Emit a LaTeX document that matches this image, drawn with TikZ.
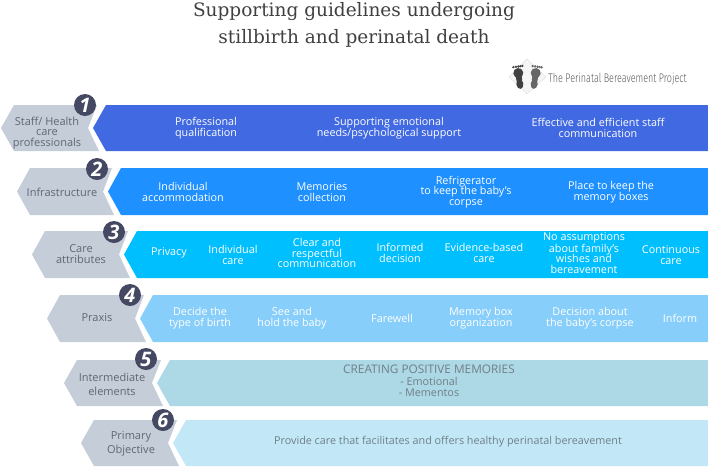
\documentclass[tikz,border=0pt]{standalone}
\usepackage{graphicx}
\usepackage{fontspec}
\setmainfont{Open Sans}
\newfontfamily\titlefont{DejaVu Serif}
\newfontfamily\logofont{Fira Sans Light}
\definecolor{badgecol}{HTML}{454862}
\definecolor{tagcol}{HTML}{C4CDD8}
\definecolor{tagtext}{HTML}{5F6774}
\definecolor{softtext}{HTML}{707F86}
\definecolor{rowa}{HTML}{4169E1}
\definecolor{rowb}{HTML}{1E90FF}
\definecolor{rowc}{HTML}{00BFFF}
\definecolor{rowd}{HTML}{87CEFA}
\definecolor{rowe}{HTML}{ADD8E6}
\definecolor{rowf}{HTML}{C2E8F7}
\tikzset{
  item/.style={text=white,font=\fontsize{10.8}{10.8}\selectfont,align=center,inner sep=0pt},
  softitem/.style={item,text=softtext,font=\fontsize{10.8}{11.6}\selectfont},
  tag/.style={text=tagtext,font=\fontsize{11}{10.8}\selectfont,align=center,inner sep=0pt},
  tagwide/.style={tag,font=\fontsize{11}{14}\selectfont},
  badge/.style={circle,fill=badgecol,text=white,minimum size=22pt,inner sep=0pt,font=\fontsize{20}{20}\selectfont\bfseries\itshape},
}
\begin{document}
\begin{tikzpicture}[x=1pt,y=-1pt]
  \useasboundingbox (0,0) rectangle (708,467);
  % row shapes: gray tip, blue tip, top, bottom, colour
  \foreach \t/\b/\ya/\yb/\c in {1/93/105/151/rowa,17/108/168/215/rowb,32/124/231/278/rowc,47/140/295/342/rowd,64/157/360/406/rowe,81/173/420/466/rowf} {
    \fill[tagcol] (\t,{(\ya+\yb)/2}) -- (\t+13,\ya) -- (\b+4,\ya) -- (\b-5,{(\ya+\yb)/2}) -- (\b+6,\yb) -- (\t+13,\yb) -- cycle;
    \fill[\c] (\b,{(\ya+\yb)/2}) -- (\b+13,\ya) -- (708,\ya) -- (708,\yb) -- (\b+13,\yb) -- cycle;
  }
  \node[font=\titlefont\fontsize{18.5}{27}\selectfont,text=black!75,align=center] (title) at (354,25) {Supporting guidelines undergoing\\stillbirth and perinatal death};
  % badges
  \node[badge] (one) at (85,105) {1};
  \node[badge] (two) at (97,169) {2};
  \node[badge] (three) at (114,232) {3};
  \node[badge] (four) at (130,295) {4};
  \node[badge] (five) at (146,359) {5};
  \node[badge] (six) at (163,420) {6};
  % left tags
  \node[tag] (staff) at (47,133) {Staff/ Health\\care\\professionals};
  \node[tag] (infra) at (62,192) {Infrastructure};
  \node[tag] (attr) at (81,254) {Care\\attributes};
  \node[tag] (praxis) at (97,318) {Praxis};
  \node[tagwide] (inter) at (112,384) {Intermediate\\elements};
  \node[tagwide] (prim) at (131,444) {Primary\\Objective};
  % first row
  \node[item] (qual) at (206,128) {Professional\\qualification};
  \node[item] (emot) at (389,128) {Supporting emotional\\needs/psychological support};
  \node[item] (comm) at (598,128) {Effective and efficient staff\\communication};
  % second row
  \node[item] (accom) at (183,192) {Individual\\accommodation};
  \node[item] (memo) at (322,192) {Memories\\collection};
  \node[item] (fridge) at (466,192) {Refrigerator\\to keep the baby's\\corpse};
  \node[item] (place) at (611,192) {Place to keep the\\memory boxes};
  % third row
  \node[item] (priv) at (169,253) {Privacy};
  \node[item] (indiv) at (233,255) {Individual\\care};
  \node[item] (clear) at (317,253) {Clear and\\respectful\\communication};
  \node[item] (inf) at (400,253) {Informed\\decision};
  \node[item] (evid) at (484,253) {Evidence-based\\care};
  \node[item] (assum) at (584,253) {No assumptions\\about family's\\wishes and\\bereavement};
  \node[item] (cont) at (671,255) {Continuous\\care};
  % fourth row
  \node[item] (decide) at (200,318) {Decide the\\type of birth};
  \node[item] (see) at (292,318) {See and\\hold the baby};
  \node[item] (fare) at (392,318) {Farewell};
  \node[item] (box) at (481,318) {Memory box\\organization};
  \node[item] (corpse) at (590,318) {Decision about\\the baby's corpse};
  \node[item] (inform) at (680,318) {Inform};
  % last rows
  \node[softitem] (pos) at (429,381) {\fontsize{11.8}{11.6}\selectfont CREATING POSITIVE MEMORIES\\- Emotional\\- Mementos};
  \node[softitem] (goal) at (448,442) {Provide care that facilitates and offers healthy perinatal bereavement};
  % logo
  \draw[black!12,fill=black!4] (527,59) -- (546,77) -- (527,94) -- (509,77) -- cycle;
  \foreach \f/\c/\r in {519/black!75/8,535/black!60/-8} {
    \begin{scope}[rotate around={\r:(\f,78)}]
      \fill[\c] (\f,73) ellipse (5 and 5);
      \fill[\c] (\f,84) ellipse (3.5 and 5);
      \fill[\c] (\f,78) ellipse (3 and 6);
      \foreach \d in {-4,-1.5,1,3,5} \fill[\c] (\f+\d,66.5) circle (1.3);
    \end{scope}
  }
  \node[font=\logofont\fontsize{12.5}{12.5}\selectfont,text=black!65,inner sep=0pt] (logo) at (617.5,79) {\scalebox{.72}[1]{The Perinatal Bereavement Project}};
\end{tikzpicture}
\end{document}
